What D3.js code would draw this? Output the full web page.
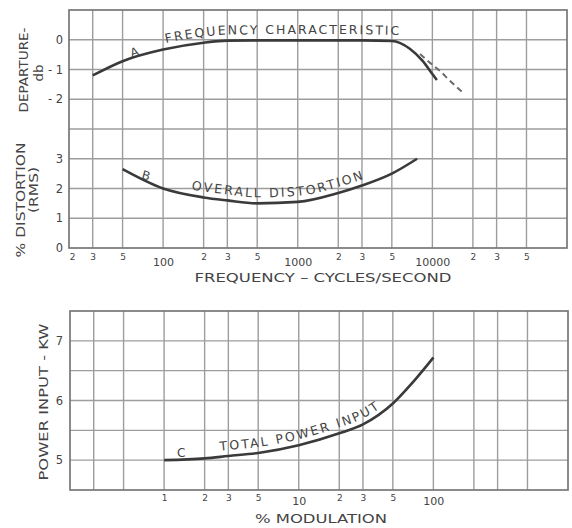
<!DOCTYPE html>
<html lang="en">
<head>
<meta charset="UTF-8" />
<title>Frequency characteristic, distortion and power input</title>
<style>
  body { margin: 0; background: #fff; }
  svg text { font-family: "DejaVu Sans", sans-serif; fill: #444; }
</style>
</head>
<body>
<script src="https://cdn.jsdelivr.net/npm/d3@7/dist/d3.min.js"></script>
<script>

// curve A - frequency characteristic (db departure)
var freqA = [30, 50, 100, 200, 300, 500, 1000, 2000, 3000, 5000, 6800, 8500, 10000, 10800];
var dbA = [-1.2, -0.72, -0.33, -0.1, -0.03, -0.02, -0.02, -0.02, -0.02, -0.04, -0.3, -0.72, -1.15, -1.35];
var kneeA = 5000; // where the response starts to fall
// dashed branch of curve A
var freqAdash = [8100, 10000, 11400, 13500, 16600];
var dbAdash = [-0.48, -0.84, -1.05, -1.38, -1.75];

// curve B - overall distortion (% rms)
var freqB = [50, 100, 200, 300, 500, 1000, 2000, 3000, 5000, 7700];
var distB = [2.65, 2.0, 1.7, 1.6, 1.5, 1.55, 1.85, 2.1, 2.5, 3.0];

// curve C - total power input (kw) vs % modulation
var modC = [1, 2, 3, 5, 10, 20, 30, 50, 70, 100];
var kwC = [5.0, 5.03, 5.07, 5.12, 5.25, 5.45, 5.6, 5.95, 6.3, 6.72];

// grids and tick labels
var freqGrid = [30, 50, 100, 200, 300, 500, 1000, 2000, 3000, 5000, 10000, 20000, 30000, 50000];
var freqTicks = [20, 30, 50, 100, 200, 300, 500, 1000, 2000, 3000, 5000, 10000, 20000, 30000, 50000];
var freqLabels = ["2", "3", "5", "100", "2", "3", "5", "1000", "2", "3", "5", "10000", "2", "3", "5"];
var dbTicks = [0, -1, -2];
var dbGrid = [0, -1, -2, -3];
var distTicks = [0, 1, 2, 3];
var distGrid = [1, 2, 3];
var modGrid = [0.3, 0.5, 1, 2, 3, 5, 10, 20, 30, 50, 100, 200, 300, 500];
var modTicks = [1, 2, 3, 5, 10, 20, 30, 50, 100];
var modLabels = ["1", "2", "3", "5", "10", "2", "3", "5", "100"];
var kwTicks = [5, 6, 7];
var kwGrid = [5, 5.5, 6, 6.5, 7];

var W = 572, H = 528;
var svg = d3.select("body").append("svg").attr("width", W).attr("height", H);

var upper = { l: 69, r: 567, t: 10, b: 248 };
var lower = { l: 70, r: 568, t: 311, b: 490 };

var xFreq = d3.scaleLog().domain([20, 100000]).range([upper.l, upper.r]);
var yDb = d3.scaleLinear().domain([-3, 1]).range([129, upper.t]);
var yDist = d3.scaleLinear().domain([0, 4]).range([upper.b, 129]);
var xMod = d3.scaleLog().domain([0.2, 1000]).range([lower.l, lower.r]);
var yKw = d3.scaleLinear().domain([4.5, 7.5]).range([lower.b, lower.t]);

var gridColor = "#9d9d9d", curveColor = "#3a3a3a";

// grid lines
function vGrid(vals, x, box) {
  svg.append("g").selectAll("line").data(vals).join("line")
    .attr("x1", function(d) { return x(d); }).attr("x2", function(d) { return x(d); })
    .attr("y1", box.t).attr("y2", box.b)
    .attr("stroke", gridColor).attr("stroke-width", 1.4);
}
function hGrid(vals, y, box) {
  svg.append("g").selectAll("line").data(vals).join("line")
    .attr("x1", box.l).attr("x2", box.r)
    .attr("y1", function(d) { return y(d); }).attr("y2", function(d) { return y(d); })
    .attr("stroke", gridColor).attr("stroke-width", 1.4);
}
vGrid(freqGrid, xFreq, upper);
hGrid(dbGrid, yDb, upper);
hGrid(distGrid, yDist, upper);
vGrid(modGrid, xMod, lower);
hGrid(kwGrid, yKw, lower);

[upper, lower].forEach(function(b) {
  svg.append("rect").attr("x", b.l).attr("y", b.t)
    .attr("width", b.r - b.l).attr("height", b.b - b.t)
    .attr("fill", "none").attr("stroke", "#777").attr("stroke-width", 1.7);
});

// x axes (labels only)
function xLabels(scale, ticks, labels, y, smallY, bigY) {
  var g = svg.append("g").attr("transform", "translate(0," + y + ")")
    .call(d3.axisBottom(scale).tickValues(ticks)
      .tickFormat(function(d, i) { return labels[i]; }).tickSize(0));
  g.select(".domain").remove();
  g.selectAll("text")
    .attr("dy", null)
    .attr("font-size", function(d, i) { return labels[i].length > 1 ? 11 : 9; })
    .attr("y", function(d, i) { return labels[i].length > 1 ? bigY : smallY; })
    .attr("fill", "#444");
  return g;
}
var gx = xLabels(xFreq, freqTicks, freqLabels, upper.b, 12, 18);
gx.selectAll(".tick").filter(function(d) { return d === 20; }).select("text").attr("x", 3);
xLabels(xMod, modTicks, modLabels, lower.b, 11, 15);

// y axes (labels only)
function yLabels(scale, ticks, fmt, x) {
  var g = svg.append("g").attr("transform", "translate(" + x + ",0)")
    .call(d3.axisLeft(scale).tickValues(ticks).tickFormat(fmt).tickSize(0).tickPadding(6));
  g.select(".domain").remove();
  g.selectAll("text").attr("font-size", 11.5).attr("fill", "#444");
}
yLabels(yDb, dbTicks, function(d) { return d === 0 ? "0" : "- " + Math.abs(d); }, upper.l);
yLabels(yDist, distTicks, function(d) { return String(d); }, upper.l);
yLabels(yKw, kwTicks, function(d) { return String(d); }, lower.l - 1);

// curves
function pts(xs, ys) { return xs.map(function(d, i) { return [d, ys[i]]; }); }
function lineGen(x, y, off) {
  return d3.line()
    .x(function(d) { return x(d[0]); })
    .y(function(d) { return y(d[1]) + (off || 0); })
    .curve(d3.curveMonotoneX);
}

var dataA = pts(freqA, dbA), dataAdash = pts(freqAdash, dbAdash);
var dataB = pts(freqB, distB), dataC = pts(modC, kwC);

svg.append("path").datum(dataA).attr("d", lineGen(xFreq, yDb))
  .attr("fill", "none").attr("stroke", curveColor).attr("stroke-width", 2.6);
svg.append("path").datum(dataAdash).attr("d", lineGen(xFreq, yDb))
  .attr("fill", "none").attr("stroke", "#6a6a6a").attr("stroke-width", 2)
  .attr("stroke-dasharray", "6,4");
svg.append("path").datum(dataB).attr("d", lineGen(xFreq, yDist))
  .attr("fill", "none").attr("stroke", curveColor).attr("stroke-width", 2.6);
svg.append("path").datum(dataC).attr("d", lineGen(xMod, yKw))
  .attr("fill", "none").attr("stroke", curveColor).attr("stroke-width", 2.6);

// curve captions follow the curves (A's guide stays level past the knee)
var kneeDb = dbA[freqA.indexOf(kneeA)];
var guideA = dataA.map(function(d) { return [d[0], d[0] > kneeA ? kneeDb : d[1]]; });
var defs = svg.append("defs");
defs.append("path").attr("id", "capA").datum(guideA).attr("d", lineGen(xFreq, yDb, -6));
defs.append("path").attr("id", "capB").datum(dataB).attr("d", lineGen(xFreq, yDist, -6));
defs.append("path").attr("id", "capC").datum(dataC).attr("d", lineGen(xMod, yKw, -6));

function caption(id, txt, offset, spacing) {
  svg.append("text").attr("font-size", 12.5).attr("letter-spacing", spacing)
    .append("textPath").attr("href", "#" + id).attr("startOffset", offset).text(txt);
}
caption("capA", "FREQUENCY CHARACTERISTIC", 78, 2.0);
caption("capB", "OVERALL DISTORTION", 74, 2.2);
caption("capC", "TOTAL POWER INPUT", 56, 2.2);

svg.append("text").attr("x", 130).attr("y", 56).attr("font-size", 12)
  .attr("transform", "rotate(-18,135,51)").text("A");
svg.append("text").attr("x", 142).attr("y", 180).attr("font-size", 12)
  .attr("transform", "rotate(15,147,175)").text("B");
svg.append("text").attr("x", 177).attr("y", 457).attr("font-size", 12).text("C");

// axis titles
function title(txt, x, y, len, rot, size) {
  svg.append("text")
    .attr("transform", "translate(" + x + "," + y + ")" + (rot ? " rotate(-90)" : ""))
    .attr("text-anchor", "middle").attr("font-size", size || 12)
    .attr("textLength", len).attr("lengthAdjust", "spacingAndGlyphs")
    .text(txt);
}
title("DEPARTURE-", 28, 70, 85, true, 11.5);
title("db", 43, 73, 17, true, 13);
title("% DISTORTION", 25, 200, 115, true, 12);
title("(RMS)", 38, 190, 46, true, 12);
title("POWER INPUT - KW", 48, 402, 157, true, 12.5);
title("FREQUENCY \u2013 CYCLES/SECOND", 323, 282, 257, false, 13);
title("% MODULATION", 321, 523, 132, false, 13);

</script>
</body>
</html>
